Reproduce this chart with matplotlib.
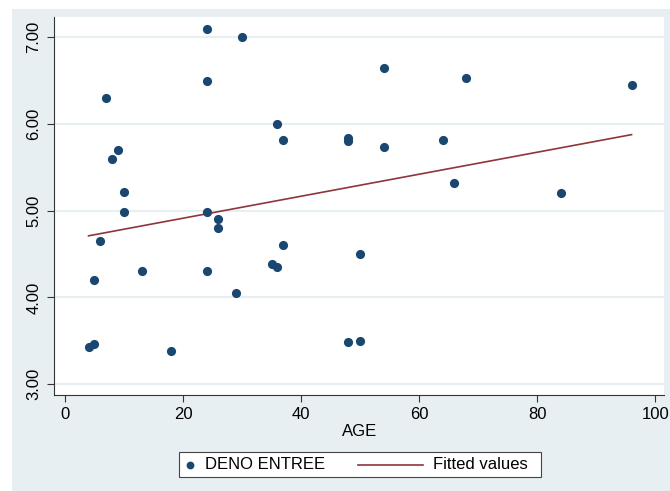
import numpy as np
import matplotlib.pyplot as plt
from matplotlib.patches import Rectangle
from matplotlib.lines import Line2D

plt.rcParams['font.family'] = ['Liberation Sans', 'DejaVu Sans']

# DENO ENTREE vs AGE
age = [24, 30, 24, 7, 36, 37, 9, 8, 10, 10, 24, 26, 26, 6, 37,
       5, 13, 24, 29, 35, 36, 4, 5, 18,
       54, 68, 96, 48, 48, 54, 64, 66, 84, 50, 48, 50]
deno = [7.10, 7.00, 6.50, 6.30, 6.00, 5.81, 5.70, 5.60, 5.22, 4.98, 4.98, 4.90, 4.80, 4.65, 4.60,
        4.20, 4.30, 4.30, 4.05, 4.38, 4.35, 3.43, 3.46, 3.38,
        6.65, 6.53, 6.45, 5.84, 5.80, 5.74, 5.82, 5.32, 5.20, 4.50, 3.48, 3.50]

# fitted values line (ends)
fit_age = [4, 96]
fit_val = [4.71, 5.877]

yticks = [3, 4, 5, 6, 7]
xticks = [0, 20, 40, 60, 80, 100]

navy = '#1a476f'
maroon = '#90353b'
band = '#e8eff2'

W, H = 670, 491
fig = plt.figure(figsize=(6.7, 4.91), dpi=100)
fig.patches.append(Rectangle((12 / W, 0), 1, 1 - 9 / H, transform=fig.transFigure,
                             facecolor=band, edgecolor='none', zorder=-10))

ax = fig.add_axes([54.3 / W, 1 - 395 / H, (664 - 54.3) / W, (395 - 17) / H])
ax.set_facecolor('white')

for t in yticks:
    ax.axhline(t, color=band, lw=1.6, zorder=0)

ax.plot(age, deno, 'o', color=navy, ms=6.6, mec='none', zorder=3)
ax.plot(fit_age, fit_val, color=maroon, lw=1.2, zorder=2)

ax.set_xlim(-1.8, 101.5)
ax.set_ylim(2.874, 7.234)
ax.set_xticks(xticks)
ax.set_yticks(yticks)
ax.set_yticklabels(['%.2f' % t for t in yticks], rotation=90, va='center')
ax.tick_params(direction='out', length=5.3, width=0.8, color='#333333',
               labelsize=12, labelcolor='black')
ax.tick_params(axis='x', pad=3)
ax.tick_params(axis='y', pad=4)
for s in ['top', 'right']:
    ax.spines[s].set_visible(False)
for s in ['left', 'bottom']:
    ax.spines[s].set_color('#333333')
    ax.spines[s].set_linewidth(0.8)

ax.set_xlabel('AGE', fontsize=12, labelpad=2)

# legend box below the plot, laid out like Stata's
def fx(px):
    return px / W

def fy(py):
    return 1 - py / H

fig.patches.append(Rectangle((fx(179), fy(477)), fx(541) - fx(179), fy(452) - fy(477),
                             transform=fig.transFigure, facecolor='white',
                             edgecolor='#444444', lw=0.8))
fig.add_artist(Line2D([fx(190)], [fy(464.5)], marker='o', ls='none', color=navy,
                      ms=5.6, mec='none', transform=fig.transFigure))
fig.text(fx(205), fy(464.5), 'DENO ENTREE', fontsize=12, va='center', ha='left')
fig.add_artist(Line2D([fx(358), fx(423)], [fy(464.5), fy(464.5)], color=maroon,
                      lw=1.2, transform=fig.transFigure))
fig.text(fx(433), fy(464.5), 'Fitted values', fontsize=12, va='center', ha='left')

fig.savefig('out.png', dpi=100)
